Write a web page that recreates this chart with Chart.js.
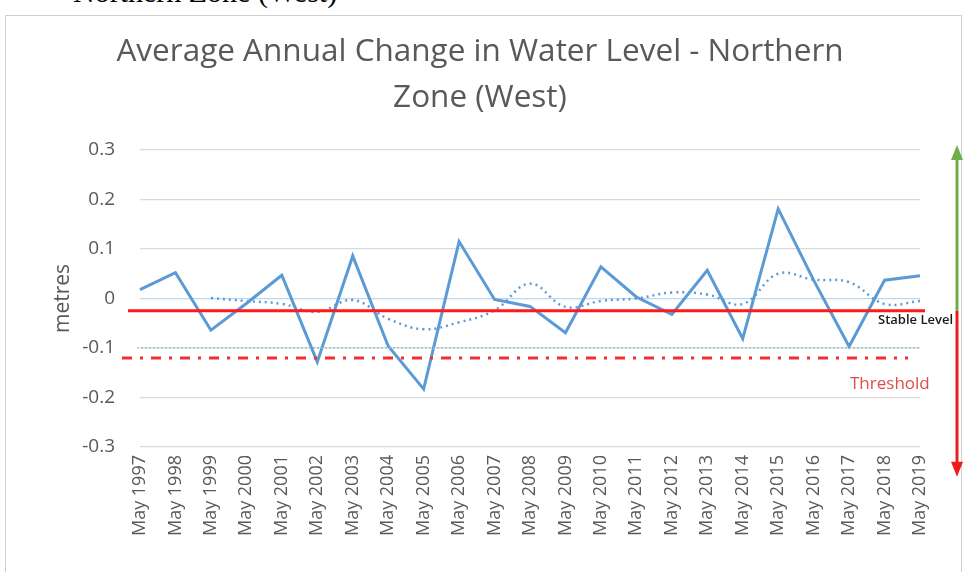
<!DOCTYPE html>
<html>
<head>
<meta charset="utf-8">
<script src="https://cdn.jsdelivr.net/npm/chart.js@4.4.1/dist/chart.umd.min.js"></script>
<style>
  html, body { margin: 0; padding: 0; background: #fff; overflow: hidden; }
  #page { position: relative; width: 967px; height: 572px; }
  #cut { position: absolute; left: 73px; top: -25px; font: 30px "Liberation Serif", serif; color: #000; white-space: nowrap; }
  #frame { position: absolute; left: 5px; top: 15px; width: 957px; height: 600px; border: 1px solid #d0d0d0; box-sizing: border-box; }
  canvas { position: absolute; left: 0; top: 0; }
</style>
</head>
<body>
<div id="page">
  <div id="cut">Northern Zone (West)</div>
  <div id="frame"></div>
  <canvas id="myChart" width="967" height="572"></canvas>
</div>
<script>
// categories along the x axis
const categories = ['May 1997', 'May 1998', 'May 1999', 'May 2000', 'May 2001', 'May 2002', 'May 2003',
  'May 2004', 'May 2005', 'May 2006', 'May 2007', 'May 2008', 'May 2009', 'May 2010', 'May 2011',
  'May 2012', 'May 2013', 'May 2014', 'May 2015', 'May 2016', 'May 2017', 'May 2018', 'May 2019'];

// average annual change (solid line), metres
const annualChange = [0.018, 0.052, -0.064, -0.010, 0.047, -0.128, 0.086, -0.096, -0.183, 0.115, -0.002,
  -0.016, -0.069, 0.064, 0.003, -0.032, 0.057, -0.081, 0.181, 0.037, -0.097, 0.037, 0.046];

// trend (dotted line), metres
const trend = [null, null, 0.001, -0.005, -0.011, -0.027, -0.003, -0.041, -0.062, -0.048, -0.024,
  0.030, -0.017, -0.005, 0.000, 0.012, 0.008, -0.011, 0.050, 0.038, 0.033, -0.011, -0.005];

// y axis tick values
const yTicks = [-0.3, -0.2, -0.1, 0, 0.1, 0.2, 0.3];

// reference levels
const stableLevel = -0.025;
const threshold = -0.12;
const guideLevel = -0.1;
const arrowTop = 0.31;
const arrowBottom = -0.36;

const fontFamily = '"Open Sans", sans-serif';
const grey = '#595959';

// horizontal reference lines, labels and the up/down arrows at the right
const referencePlugin = {
  id: 'reference',
  afterDatasetsDraw(chart) {
    const { ctx, chartArea: area, scales: { y } } = chart;
    ctx.save();

    // faint dotted guide line
    let py = y.getPixelForValue(guideLevel);
    ctx.strokeStyle = 'rgba(140,200,185,0.9)';
    ctx.lineWidth = 1.5;
    ctx.setLineDash([2, 2]);
    ctx.beginPath(); ctx.moveTo(area.left - 3, py); ctx.lineTo(area.right, py); ctx.stroke();

    // stable level (solid red)
    py = y.getPixelForValue(stableLevel);
    ctx.strokeStyle = '#ff1a1a';
    ctx.lineWidth = 3;
    ctx.setLineDash([]);
    ctx.beginPath(); ctx.moveTo(area.left - 12, py); ctx.lineTo(area.right + 5, py); ctx.stroke();

    // threshold (dash-dot red)
    py = y.getPixelForValue(threshold);
    ctx.strokeStyle = '#f03030';
    ctx.lineWidth = 3;
    ctx.setLineDash([10, 8, 3, 8]);
    ctx.beginPath(); ctx.moveTo(area.left - 18, py); ctx.lineTo(area.right - 12, py); ctx.stroke();
    ctx.setLineDash([]);

    // labels
    ctx.textBaseline = 'middle';
    ctx.textAlign = 'left';
    ctx.fillStyle = '#1a1a1a';
    ctx.font = '600 13px ' + fontFamily;
    ctx.fillText('Stable Level', area.right - 42, y.getPixelForValue(stableLevel) + 9);
    ctx.fillStyle = '#e34a4a';
    ctx.font = '17px ' + fontFamily;
    ctx.fillText('Threshold', area.right - 70, y.getPixelForValue(threshold) + 26);

    // arrows
    const ax = area.right + 37;
    const mid = y.getPixelForValue(stableLevel);
    const top = y.getPixelForValue(arrowTop);
    const bottom = y.getPixelForValue(arrowBottom);
    ctx.lineWidth = 3;
    ctx.strokeStyle = '#70ad47';
    ctx.fillStyle = '#70ad47';
    ctx.beginPath(); ctx.moveTo(ax, mid); ctx.lineTo(ax, top + 12); ctx.stroke();
    ctx.beginPath(); ctx.moveTo(ax, top); ctx.lineTo(ax - 6, top + 15); ctx.lineTo(ax + 6, top + 15); ctx.closePath(); ctx.fill();
    ctx.strokeStyle = '#ee1c1c';
    ctx.fillStyle = '#ee1c1c';
    ctx.beginPath(); ctx.moveTo(ax, mid); ctx.lineTo(ax, bottom - 12); ctx.stroke();
    ctx.beginPath(); ctx.moveTo(ax, bottom); ctx.lineTo(ax - 6, bottom - 15); ctx.lineTo(ax + 6, bottom - 15); ctx.closePath(); ctx.fill();

    ctx.restore();
  }
};

const ctx = document.getElementById('myChart').getContext('2d');

const myChart = new Chart(ctx, {
  type: 'line',
  data: {
    labels: categories,
    datasets: [{
      label: 'Average Annual Change',
      data: annualChange,
      borderColor: '#5b9bd5',
      borderWidth: 3,
      pointRadius: 0,
      tension: 0
    }, {
      label: 'Trend',
      data: trend,
      borderColor: '#5b9bd5',
      borderWidth: 2.5,
      borderDash: [2, 4],
      pointRadius: 0,
      tension: 0.4
    }]
  },
  options: {
    responsive: false,
    animation: false,
    devicePixelRatio: 1,
    layout: { padding: { left: 40, right: 47, top: 0, bottom: 0 } },
    plugins: {
      legend: { display: false },
      tooltip: { enabled: false },
      title: {
        display: true,
        text: ['Average Annual Change in Water Level - Northern', 'Zone (West)'],
        color: grey,
        font: { family: fontFamily, size: 31.5, weight: 'normal', lineHeight: 1.46 },
        padding: { top: 29, bottom: 29 }
      }
    },
    scales: {
      x: {
        grid: { display: false, drawTicks: false },
        border: { display: false },
        ticks: {
          color: grey,
          font: { family: fontFamily, size: 18 },
          minRotation: 90,
          maxRotation: 90,
          autoSkip: false,
          padding: 8
        },
        afterFit(scale) { scale.height = 125; }
      },
      y: {
        min: -0.3,
        max: 0.3,
        afterBuildTicks(scale) { scale.ticks = yTicks.map(v => ({ value: v })); },
        grid: {
          drawTicks: false,
          color: c => (c.tick && c.tick.value === 0 ? '#bdd7ee' : '#d9d9d9'),
          lineWidth: 1.2
        },
        border: { display: false },
        ticks: {
          color: grey,
          font: { family: fontFamily, size: 19 },
          padding: 25,
          callback: v => String(Number(v.toFixed(1)))
        },
        title: {
          display: true,
          text: 'metres',
          color: grey,
          font: { family: fontFamily, size: 21 },
          padding: { top: 10, bottom: 0 }
        },
        afterFit(scale) { scale.width = 100; }
      }
    }
  },
  plugins: [referencePlugin]
});
</script>
</body>
</html>
